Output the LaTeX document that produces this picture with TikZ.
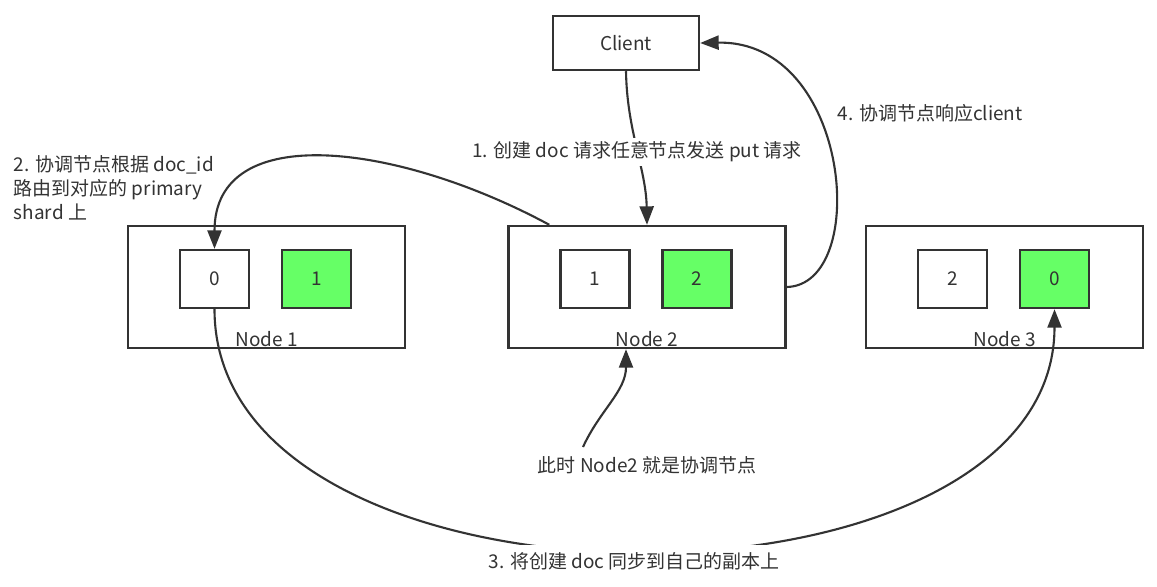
\documentclass[tikz,border=0pt]{standalone}
\usepackage{fontspec}
\setmainfont{Noto Sans CJK SC}
\usetikzlibrary{arrows.meta,calc}

\definecolor{lineGray}{HTML}{333333}
\definecolor{shardGreen}{HTML}{66FF66}

\def\esNodeWidth{5.54}
\def\esNodeHeight{2.44}
\def\shardWidth{1.38}
\def\shardHeight{1.16}

\tikzset{
    esnode/.style = {draw = lineGray, line width = 1.4pt,
        minimum width = \esNodeWidth cm, minimum height = \esNodeHeight cm},
    shard/.style = {draw = lineGray, line width = 1.4pt, fill = white, text = lineGray,
        minimum width = \shardWidth cm, minimum height = \shardHeight cm},
    primary/.style = {shard, fill = shardGreen},
    flow/.style = {draw = lineGray, line width = 1.2pt,
        -{Triangle[length = 10.5pt, width = 8pt]}},
    note/.style = {text = lineGray, fill = white, inner sep = 2pt},
}

\begin{document}
\begin{tikzpicture}[x = 0.02cm, y = -0.02cm, font = \fontsize{10.8}{13.6}\selectfont]
            \path [fill = white, use as bounding box]
            (0,0) rectangle (1157,586)
            ;
            %% client
            \node [shard, minimum width = 2.92cm, minimum height = 1.08cm]
            (client) at (626,43) {Client}
            ;
            %% es nodes, each with a replica and a primary shard
            \foreach \n/\x/\rep/\pri in {1/266.5/0/1, 2/647/1/2, 3/1004.5/2/0} {
                \node [esnode] (node\n) at (\x,287) {};
                \node [shard] (rep\n) at (\x-52,279) {\rep};
                \node [primary] (pri\n) at (\x+50,279) {\pri};
                \node [above, inner sep = 1pt, text = lineGray] (label\n) at (node\n.south) {Node \n};
            }
            %% ...free ends
            \coordinate (n2top) at ($(node2.north west)+(42,0)$);
            \coordinate (n2bottom) at ($(node2.south)+(-21,0)$);
            \coordinate (coordtail) at (583,447);
            %% 1. client -> node 2
            \draw [flow]
            (client.south) .. controls +(1,60) and +(-1,-56) .. (node2.north)
            ;
            \node [note] (step1) at (637,152) {1. 创建 doc 请求任意节点发送 put 请求};
            %% 2. node 2 -> primary on node 1
            \draw [flow]
            (n2top) .. controls +(-150,-81) and +(0,-130) .. (rep1.north)
            ;
            \node [note, fill = none, anchor = north west, align = left] (step2) at (10,152)
            {2. 协调节点根据 doc\_id\\路由到对应的 primary\\shard 上};
            %% 3. node 1 -> replica on node 3
            \draw [flow]
            (rep1.south) .. controls +(0,322) and +(0,322) .. (pri3.south)
            ;
            \node [note, inner sep = 4pt] (step3) at (634,561) {3. 将创建 doc 同步到自己的副本上};
            %% 4. node 2 -> client
            \draw [flow]
            (node2.east) .. controls +(84,-2) and +(151,-3) .. (client.east)
            ;
            \node [note, anchor = west] (step4) at (834,113) {4. 协调节点响应client};
            %% coordinating node
            \node [note] (coordinator) at (647,465) {此时 Node2 就是协调节点};
            \draw [flow]
            (coordtail) .. controls +(17,-37) and +(0,42) .. (n2bottom)
            ;
        \end{tikzpicture}
\end{document}
